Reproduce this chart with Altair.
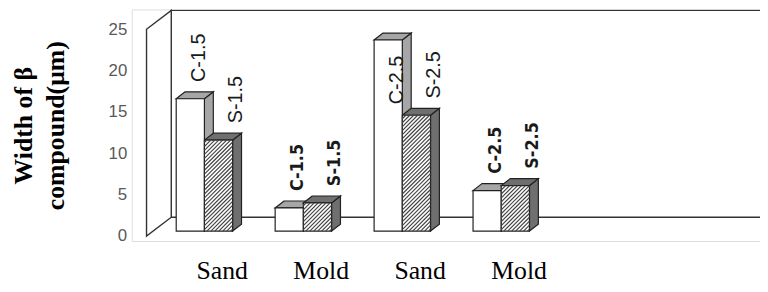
import json
import math
import altair as alt
import pandas as pd

# ---------------- data ----------------
categories = ["Sand", "Mold", "Sand", "Mold"]
series = ["C", "S"]
labels_c = ["C-1.5", "C-1.5", "C-2.5", "C-2.5"]
labels_s = ["S-1.5", "S-1.5", "S-2.5", "S-2.5"]
values_c = [16.0, 2.8, 23.1, 4.9]
values_s = [11.0, 3.4, 14.0, 5.5]
y_ticks = [0, 5, 10, 15, 20, 25]
y_title = ["Width of β", "compound(μm)"]

# ---------------- geometry / style ----------------
PX_X = 100.0          # pixels per x unit (one category slot)
PX_Y = 8.36           # pixels per value unit
X_MIN, X_MAX = -0.15, 6.2
Y_MIN, Y_MAX = -0.6, 27.39
WALL_DX = 0.25
WALL_DY = 19 / PX_Y
BAR_START = 0.30
BAR_W = 0.285
BAR_BASE = 5 / PX_Y
BAR_DX = 0.09
BAR_DY = 7 / PX_Y
CAT_OFF = 0.76
LINE = "#333333"
LW = 1.4

rows = []
for i, cat in enumerate(categories):
    for j, (s, v, lab) in enumerate(zip(series, [values_c[i], values_s[i]], [labels_c[i], labels_s[i]])):
        xl = i + BAR_START + j * BAR_W
        xr = xl + BAR_W
        rows.append(dict(id=f"{i}-{s}", cat=cat, series=s, v=v, label=lab,
                         xl=xl, xr=xr, base=BAR_BASE, top=v + BAR_BASE))
bars = pd.DataFrame(rows)

tops, sides = [], []
for r in rows:
    tops.append(dict(id=r["id"], series=r["series"], y=r["top"], x=r["xl"], x2=r["xr"]))
    tops.append(dict(id=r["id"], series=r["series"], y=r["top"] + BAR_DY,
                     x=r["xl"] + BAR_DX, x2=r["xr"] + BAR_DX))
    sides.append(dict(id=r["id"], series=r["series"], x=r["xr"], y=r["top"], y2=r["base"]))
    sides.append(dict(id=r["id"], series=r["series"], x=r["xr"] + BAR_DX,
                      y=r["top"] + BAR_DY, y2=r["base"] + BAR_DY))
tops = pd.DataFrame(tops)
sides = pd.DataFrame(sides)

# hatch lines on the S front faces ("/" direction)
HS = 4.0
hatch = []
for r in rows:
    if r["series"] != "S":
        continue
    u0, u1 = r["xl"] * PX_X, r["xr"] * PX_X
    w0, w1 = r["base"] * PX_Y, r["top"] * PX_Y
    c = math.ceil((w0 - u1) / HS) * HS
    while c < w1 - u0:
        ua = max(u0, w0 - c)
        ub = min(u1, w1 - c)
        if ub > ua + 0.3:
            hatch.append(dict(x=ua / PX_X, y=(ua + c) / PX_Y, x2=ub / PX_X, y2=(ub + c) / PX_Y))
        c += HS
hatch = pd.DataFrame(hatch)

wall_top = y_ticks[-1]
left_wall = pd.DataFrame([
    dict(x=0.0, y=wall_top, y2=0.0),
    dict(x=WALL_DX, y=wall_top + WALL_DY, y2=WALL_DY),
])
back_wall = pd.DataFrame([dict(x=WALL_DX, x2=X_MAX + 0.3, y=WALL_DY, y2=wall_top + WALL_DY)])

lab_rows = []
for r in rows:
    off = 0.09 if r["series"] == "C" else 0.18
    inside = r["top"] + 2.0 + 50 / PX_Y > Y_MAX
    ly = r["top"] - 16 / PX_Y if inside else r["top"] + 17 / PX_Y
    lab_rows.append(dict(cat=r["cat"], label=r["label"], lx=(r["xl"] + r["xr"]) / 2 + off,
                         ly=ly, inside=bool(inside)))
labs = pd.DataFrame(lab_rows)

# ---------------- scales / axes ----------------
xs = alt.Scale(domain=[X_MIN, X_MAX], nice=False, zero=False)
ys = alt.Scale(domain=[Y_MIN, Y_MAX], nice=False, zero=False)
label_expr = json.dumps(categories) + f"[round(datum.value - {CAT_OFF})]"
x_axis = alt.Axis(values=[i + CAT_OFF for i in range(len(categories))], labelExpr=label_expr,
                  title=None, domain=False, ticks=False, grid=False,
                  labelFont="Liberation Serif", labelFontSize=26, labelColor="black",
                  labelBaseline="alphabetic", labelPadding=38, labelFlush=False, labelOverlap=False)
y_axis = alt.Axis(values=y_ticks, title=y_title, domain=False, ticks=False, grid=False,
                  labelFont="Liberation Sans", labelFontSize=17, labelColor="#595959",
                  labelPadding=5,
                  titleFont="Liberation Serif", titleFontSize=26, titleFontWeight="bold",
                  titleColor="black", titleAngle=270, titleAlign="center", titleBaseline="middle",
                  titleLineHeight=32, titleX=-109, titleY=117)


def X(f):
    return alt.X(f"{f}:Q", scale=xs, axis=x_axis)


def Y(f):
    return alt.Y(f"{f}:Q", scale=ys, axis=y_axis)


back = alt.Chart(back_wall).mark_rect(fill="white", stroke=LINE, strokeWidth=LW, clip=True).encode(
    x=X("x"), x2="x2", y=Y("y"), y2="y2")

left = alt.Chart(left_wall).mark_area(orient="vertical", fill="white", stroke=LINE, strokeWidth=LW).encode(
    x=X("x"), y=Y("y"), y2="y2")

side_l = alt.Chart(sides).mark_area(orient="vertical", stroke="#222222", strokeWidth=1.2).encode(
    x=X("x"), y=Y("y"), y2="y2", detail="id:N",
    fill=alt.Fill("series:N", scale=alt.Scale(domain=series, range=["#a6a6a6", "#6f6f6f"]), legend=None))

top_l = alt.Chart(tops).mark_area(orient="horizontal", stroke="#222222", strokeWidth=1.2).encode(
    y=Y("y"), x=X("x"), x2="x2", detail="id:N",
    fill=alt.Fill("series:N", scale=alt.Scale(domain=series, range=["#c0c0c0", "#9a9a9a"]), legend=None))

front = alt.Chart(bars).mark_rect(fill="white", stroke="#222222", strokeWidth=1.2).encode(
    x=X("xl"), x2="xr", y=Y("base"), y2="top")

hatch_l = alt.Chart(hatch).mark_rule(color="#444444", strokeWidth=1.2).encode(
    x=X("x"), x2="x2", y=Y("y"), y2="y2")

sand_font = dict(angle=270, baseline="middle", font="Liberation Sans", fontSize=20, color="#1a1a1a")
sand_out = alt.Chart(labs).transform_filter(
    (alt.datum.cat == "Sand") & (~alt.datum.inside)).mark_text(align="left", **sand_font).encode(
    x=X("lx"), y=Y("ly"), text="label:N")
sand_in = alt.Chart(labs).transform_filter(
    (alt.datum.cat == "Sand") & alt.datum.inside).mark_text(align="right", **sand_font).encode(
    x=X("lx"), y=Y("ly"), text="label:N")
mold_l = alt.Chart(labs).transform_filter(alt.datum.cat == "Mold").mark_text(
    align="left", angle=270, baseline="middle",
    font="Liberation Sans Narrow, DejaVu Sans Condensed, sans-serif", fontWeight="bold",
    fontSize=18, color="#1a1a1a").encode(x=X("lx"), y=Y("ly"), text="label:N")

chart = alt.layer(back, left, side_l, top_l, front, hatch_l, sand_out, sand_in, mold_l).properties(
    width=635, height=234,
    autosize=alt.AutoSizeParams(type="none"),
    padding={"left": 125, "top": 0, "right": 0, "bottom": 42},
).configure_view(strokeWidth=0).configure(background="white")

chart.save("out.html", embed_options={"renderer": "svg", "actions": False})
